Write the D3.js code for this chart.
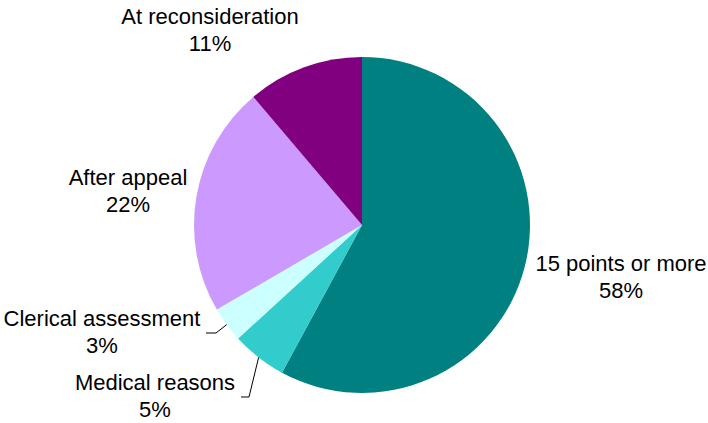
<!DOCTYPE html>
<html>
<head>
<meta charset="utf-8">
<script src="https://cdn.jsdelivr.net/npm/d3@7"></script>
<style>
  body { margin: 0; background: #fff; }
  text { font-family: Arial, "Liberation Sans", sans-serif; font-size: 22px; fill: #000; }
</style>
</head>
<body>
<div id="chart"></div>
<script>
// slice data, clockwise from 12 o'clock
var categories = ["15 points or more", "Medical reasons", "Clerical assessment", "After appeal", "At reconsideration"];
var values = [57.9, 5.3, 3.4, 22.2, 11.2];
var percentLabels = ["58%", "5%", "3%", "22%", "11%"];
var colours = ["#008080", "#33cccc", "#ccffff", "#cc99ff", "#800080"];

var w = 708, h = 423,
	cx = 362, cy = 225,
	radius = 168;

// label placement (centre x, first baseline y) and leader lines
var labelPos = [[621, 271], [155, 390], [102, 326], [128, 185], [210, 24]];
var leaders = {
	1: [[249, 397], [241, 397]],
	2: [[216, 333], [206, 333]]
};

var svg = d3.select("#chart")
	.append("svg")
	.attr("width", w)
	.attr("height", h);

var data = categories.map(function(c, i){
	return { name: c, value: values[i], pct: percentLabels[i], colour: colours[i], idx: i };
});

var pie = d3.pie()
	.sort(null)
	.value(function(d){ return d.value; });

var arc = d3.arc()
	.innerRadius(0)
	.outerRadius(radius);

var arcs = pie(data);

var g = svg.append("g")
	.attr("transform", "translate(" + cx + "," + cy + ")");

g.selectAll("path")
	.data(arcs)
	.enter()
	.append("path")
	.attr("d", arc)
	.attr("fill", function(d){ return d.data.colour; });

// leader lines for the two thin slices
arcs.forEach(function(a){
	var pts = leaders[a.index];
	if(!pts) return;
	var mid = (a.startAngle + a.endAngle) / 2;
	var start = [cx + radius * Math.sin(mid), cy - radius * Math.cos(mid)];
	svg.append("polyline")
		.attr("points", [start].concat(pts).map(function(p){ return p.join(","); }).join(" "))
		.attr("fill", "none")
		.attr("stroke", "#000")
		.attr("stroke-width", 1);
});

var labels = svg.append("g")
	.selectAll("text")
	.data(data)
	.enter()
	.append("text")
	.attr("text-anchor", "middle");

labels.append("tspan")
	.attr("x", function(d){ return labelPos[d.idx][0]; })
	.attr("y", function(d){ return labelPos[d.idx][1]; })
	.text(function(d){ return d.name; });

labels.append("tspan")
	.attr("x", function(d){ return labelPos[d.idx][0]; })
	.attr("y", function(d){ return labelPos[d.idx][1] + 27; })
	.text(function(d){ return d.pct; });
</script>
</body>
</html>
